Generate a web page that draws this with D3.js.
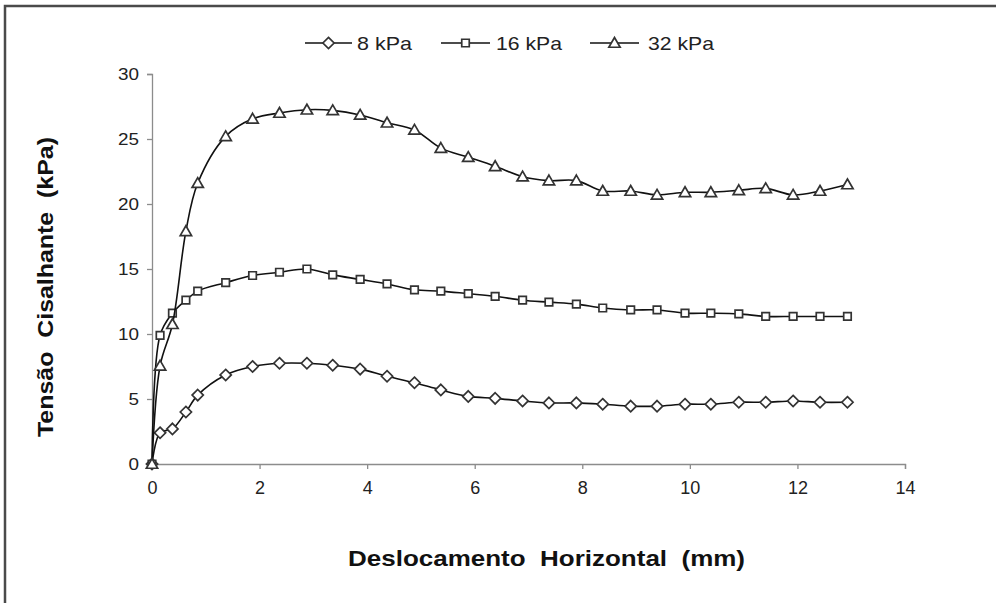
<!DOCTYPE html>
<html><head><meta charset="utf-8">
<script src="https://cdn.jsdelivr.net/npm/d3@7"></script>
<style>
html,body{margin:0;padding:0;background:#fff;}
svg{display:block;font-family:"Liberation Sans",Arial,sans-serif;}
</style></head>
<body>
<svg id="chart" width="996" height="603"></svg>
<script>
const xValues = [0, 0.15, 0.38, 0.63, 0.85, 1.37, 1.87, 2.37, 2.88, 3.36, 3.87, 4.37, 4.88, 5.37, 5.88, 6.38, 6.89, 7.38, 7.89, 8.38, 8.9, 9.39, 9.91, 10.39, 10.91, 11.41, 11.92, 12.42, 12.93];
const series8 = [0, 2.4, 2.7, 4.0, 5.3, 6.85, 7.5, 7.75, 7.75, 7.6, 7.3, 6.75, 6.25, 5.7, 5.2, 5.05, 4.85, 4.7, 4.7, 4.6, 4.45, 4.45, 4.6, 4.6, 4.75, 4.75, 4.85, 4.75, 4.75];
const series16 = [0, 9.9, 11.6, 12.6, 13.3, 13.95, 14.5, 14.75, 15.0, 14.55, 14.2, 13.85, 13.4, 13.3, 13.1, 12.9, 12.6, 12.45, 12.3, 12.0, 11.85, 11.85, 11.6, 11.6, 11.55, 11.35, 11.35, 11.35, 11.35];
const series32 = [0, 7.55, 10.75, 17.9, 21.6, 25.2, 26.55, 27.0, 27.25, 27.2, 26.85, 26.25, 25.7, 24.3, 23.6, 22.9, 22.1, 21.8, 21.8, 21.0, 21.0, 20.7, 20.9, 20.9, 21.05, 21.2, 20.7, 21.0, 21.5];
const seriesNames = ["8 kPa", "16 kPa", "32 kPa"];
const seriesSymbols = ["diamond", "square", "triangle"];
const xTicks = [0, 2, 4, 6, 8, 10, 12, 14];
const yTicks = [0, 5, 10, 15, 20, 25, 30];
const xTitle = "Deslocamento  Horizontal  (mm)";
const yTitle = "Tensão  Cisalhante  (kPa)";

const svg = d3.select("#chart");
svg.append("path").attr("d", "M5,603 V6 H996").attr("fill", "none").attr("stroke", "#4a4a4a").attr("stroke-width", 2.5);

const x = d3.scaleLinear().domain([0, 14]).range([152, 905]);
const y = d3.scaleLinear().domain([0, 30]).range([464, 74]);

const axisColor = "#8c8c8c";
const gx = svg.append("g").attr("transform", `translate(0,${y(0)})`)
  .call(d3.axisBottom(x).tickValues(xTicks).tickSize(5).tickPadding(12).tickFormat(d3.format("d")));
const gy = svg.append("g").attr("transform", `translate(${x(0)},0)`)
  .call(d3.axisLeft(y).tickValues(yTicks).tickSize(5).tickPadding(8).tickFormat(d3.format("d")));
[gx, gy].forEach(g => {
  g.select(".domain").attr("stroke", axisColor).attr("stroke-width", 1.3);
  g.selectAll(".tick line").attr("stroke", axisColor).attr("stroke-width", 1.3);
  g.selectAll(".tick text").attr("fill", "#222")
    .attr("font-family", "Liberation Sans, Arial, sans-serif");
});
gx.selectAll(".tick text").style("font-size", "18px");
gy.selectAll(".tick text").style("font-size", "17px").each(function(d){ d3.select(this).attr("textLength", String(d).length * 10.5).attr("lengthAdjust", "spacingAndGlyphs"); });

const symbolPath = {
  diamond: d3.symbol().type(d3.symbolDiamond2).size(80),
  square: d3.symbol().type(d3.symbolSquare2).size(72),
  triangle: d3.symbol().type(d3.symbolTriangle2).size(92)
};

const line = d3.line().x(d => x(d[0])).y(d => y(d[1])).curve(d3.curveCatmullRom.alpha(0.5));
const allSeries = [series8, series16, series32];
allSeries.forEach((vals, i) => {
  const pts = xValues.map((xv, j) => [xv, vals[j]]);
  svg.append("path").datum(pts).attr("d", line).attr("fill", "none").attr("stroke", "#111").attr("stroke-width", 1.6);
  const sym = seriesSymbols[i];
  svg.append("g").selectAll("path").data(pts).join("path")
    .attr("d", symbolPath[sym])
    .attr("transform", d => `translate(${x(d[0])},${y(d[1]) + (sym === "triangle" ? 1 : 0)})`)
    .attr("fill", "#fff").attr("stroke", "#333").attr("stroke-width", 1.7);
});

const legendItems = [
  {x0: 305, x1: 352, tx: 357, w: 55},
  {x0: 441, x1: 490, tx: 496, w: 66},
  {x0: 590, x1: 639, tx: 648, w: 66}
];
legendItems.forEach((it, i) => {
  const g = svg.append("g");
  g.append("line").attr("x1", it.x0).attr("x2", it.x1).attr("y1", 43).attr("y2", 43).attr("stroke", "#111").attr("stroke-width", 1.6);
  const sym = seriesSymbols[i];
  g.append("path").attr("d", symbolPath[sym]).attr("transform", `translate(${(it.x0 + it.x1) / 2},${43 + (sym === "triangle" ? 1 : 0)})`)
    .attr("fill", "#fff").attr("stroke", "#333").attr("stroke-width", 1.7);
  g.append("text").attr("x", it.tx).attr("y", 50).attr("font-size", 19).attr("fill", "#222")
    .attr("textLength", it.w).attr("lengthAdjust", "spacingAndGlyphs").text(seriesNames[i]);
});

svg.append("text").attr("x", 348).attr("y", 566)
  .attr("font-size", 22).attr("font-weight", "bold").attr("fill", "#111")
  .attr("textLength", 397).attr("lengthAdjust", "spacingAndGlyphs").style("white-space", "pre").text(xTitle);
svg.append("text").attr("transform", "translate(53,437) rotate(-90)")
  .attr("font-size", 22).attr("font-weight", "bold").attr("fill", "#111")
  .attr("textLength", 300).attr("lengthAdjust", "spacingAndGlyphs").style("white-space", "pre").text(yTitle);
</script>
</body></html>
